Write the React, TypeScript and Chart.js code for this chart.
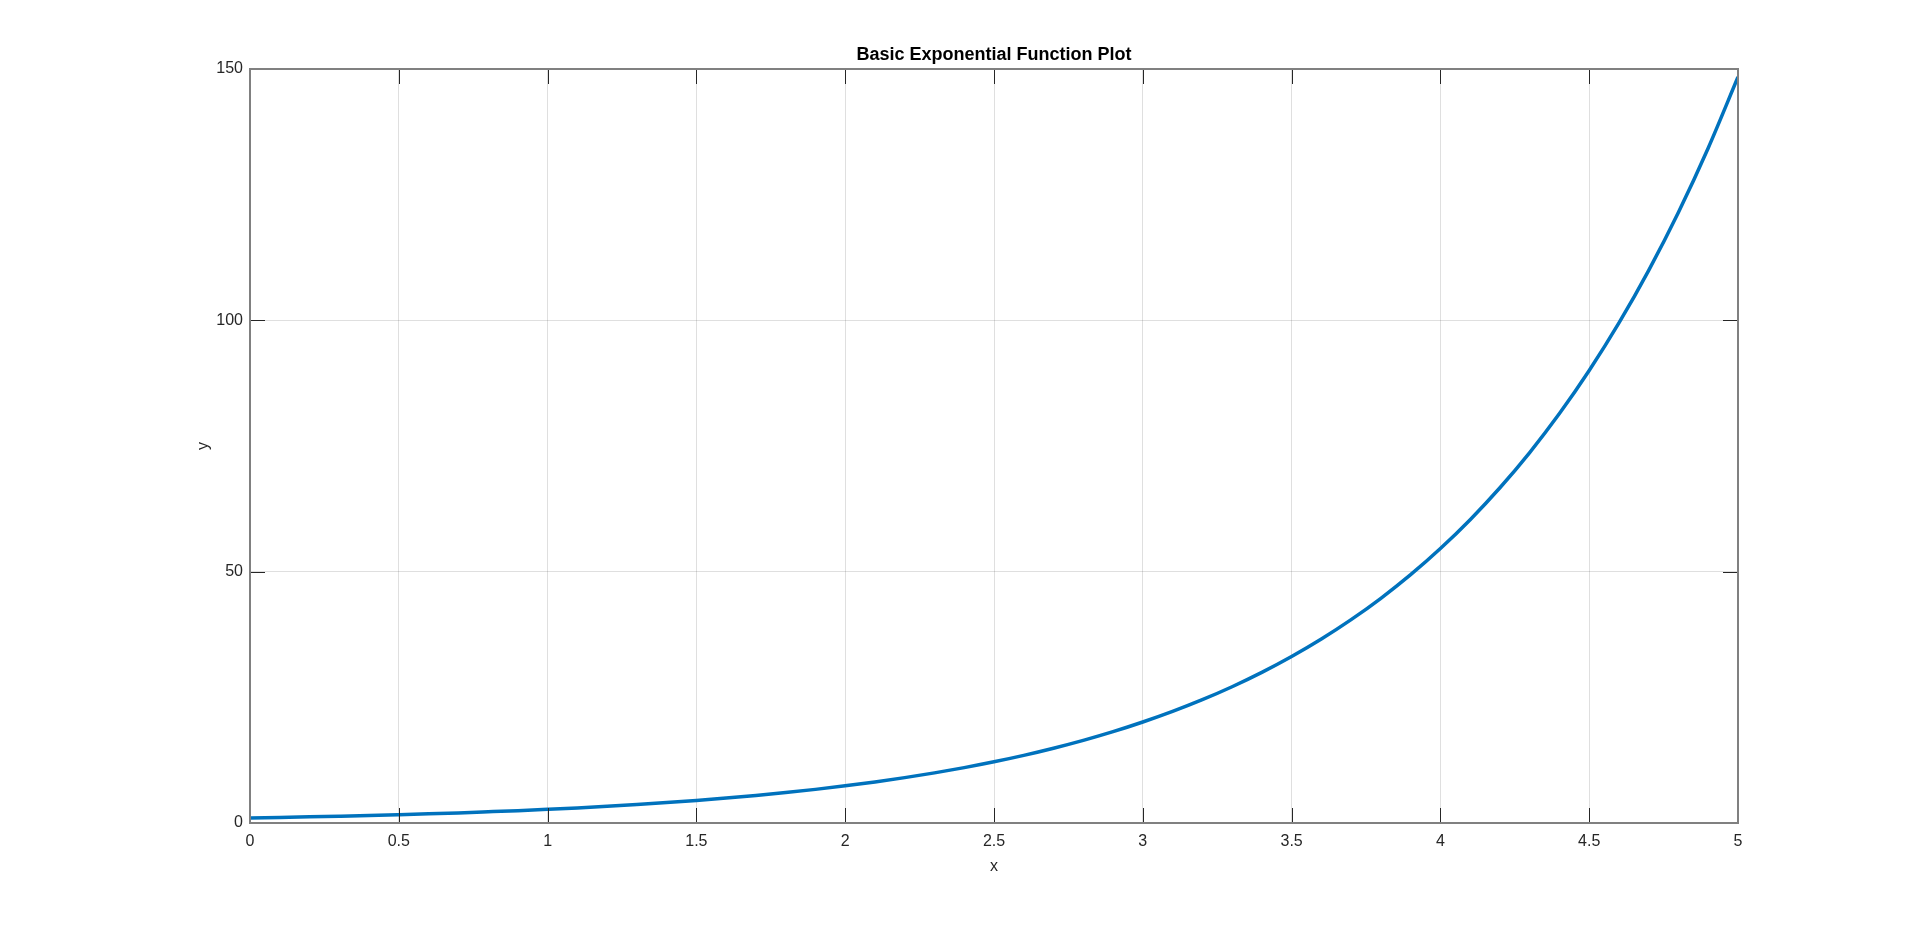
import React, { useEffect, useRef } from "react";
import { Chart, registerables } from "chart.js";

Chart.register(...registerables);

const chartTitle = "Basic Exponential Function Plot";
const xAxisLabel = "x";
const yAxisLabel = "y";

const xValues = [
  0, 0.1, 0.2, 0.3, 0.4, 0.5, 0.6, 0.7, 0.8, 0.9,
  1.0, 1.1, 1.2, 1.3, 1.4, 1.5, 1.6, 1.7, 1.8, 1.9,
  2.0, 2.1, 2.2, 2.3, 2.4, 2.5, 2.6, 2.7, 2.8, 2.9,
  3.0, 3.1, 3.2, 3.3, 3.4, 3.5, 3.6, 3.7, 3.8, 3.9,
  4.0, 4.1, 4.2, 4.3, 4.4, 4.5, 4.6, 4.7, 4.8, 4.9,
  5.0,
];

const yValues = [
  1.0, 1.11, 1.22, 1.35, 1.49, 1.65, 1.82, 2.01, 2.23, 2.46,
  2.72, 3.0, 3.32, 3.67, 4.06, 4.48, 4.95, 5.47, 6.05, 6.69,
  7.39, 8.17, 9.03, 9.97, 11.02, 12.18, 13.46, 14.88, 16.44, 18.17,
  20.09, 22.2, 24.53, 27.11, 29.96, 33.12, 36.6, 40.45, 44.7, 49.4,
  54.6, 60.34, 66.69, 73.7, 81.45, 90.02, 99.48, 109.95, 121.51, 134.29,
  148.41,
];

const xTicks = [0, 0.5, 1, 1.5, 2, 2.5, 3, 3.5, 4, 4.5, 5];
const xTickLabels = ["0", "0.5", "1", "1.5", "2", "2.5", "3", "3.5", "4", "4.5", "5"];
const yTicks = [0, 50, 100, 150];
const yTickLabels = ["0", "50", "100", "150"];

const FONT = "'Liberation Sans', Arial, Helvetica, sans-serif";
const AXIS_COLOR = "#262626";

const boxPlugin = {
  id: "matlabBox",
  afterDatasetsDraw(chart: any) {
    const { ctx, chartArea, scales } = chart;
    const { left, right, top, bottom } = chartArea;
    const xs = scales.x;
    const ys = scales.y;
    const tl = 15;
    ctx.save();
    ctx.lineWidth = 1;
    ctx.strokeStyle = AXIS_COLOR;
    ctx.beginPath();
    xTicks.forEach((v) => {
      const px = Math.round(xs.getPixelForValue(v)) + 0.5;
      ctx.moveTo(px, bottom);
      ctx.lineTo(px, bottom - tl);
      ctx.moveTo(px, top);
      ctx.lineTo(px, top + tl);
    });
    yTicks.forEach((v) => {
      const py = Math.round(ys.getPixelForValue(v)) + 0.5;
      ctx.moveTo(left, py);
      ctx.lineTo(left + tl, py);
      ctx.moveTo(right, py);
      ctx.lineTo(right - tl, py);
    });
    ctx.stroke();
    ctx.strokeStyle = "#808080";
    ctx.lineWidth = 2;
    ctx.strokeRect(left, top, right - left, bottom - top);
    ctx.restore();
  },
};

export default function App() {
  const canvasRef = useRef<HTMLCanvasElement | null>(null);

  useEffect(() => {
    const canvas = canvasRef.current;
    if (!canvas) return;
    Chart.defaults.font.family = FONT;
    Chart.defaults.color = AXIS_COLOR;

    const points = xValues.map((x, i) => ({ x, y: yValues[i] }));

    const chart = new Chart(canvas, {
      type: "line",
      data: {
        datasets: [
          {
            data: points,
            borderColor: "#0072BD",
            borderWidth: 3.5,
            pointRadius: 0,
            fill: false,
            cubicInterpolationMode: "monotone",
          },
        ],
      },
      options: {
        animation: false,
        responsive: false,
        layout: { padding: { left: 0, top: 0, right: 182, bottom: 0 } },
        plugins: {
          legend: { display: false },
          tooltip: { enabled: false },
          title: {
            display: true,
            text: chartTitle,
            fullSize: false,
            color: "#000000",
            font: { family: FONT, size: 18, weight: "bold" },
            padding: { top: 44.2, bottom: 3.2 },
          },
        },
        scales: {
          x: {
            type: "linear",
            min: 0,
            max: 5,
            afterBuildTicks: (scale: any) => {
              scale.ticks = xTicks.map((v) => ({ value: v }));
            },
            afterFit: (scale: any) => {
              scale.height = 103;
            },
            ticks: {
              autoSkip: false,
              maxRotation: 0,
              padding: 9,
              color: AXIS_COLOR,
              font: { family: FONT, size: 16 },
              callback: (value: any) => {
                const i = xTicks.indexOf(Number(value));
                return i >= 0 ? xTickLabels[i] : "";
              },
            },
            grid: { color: "rgba(38,38,38,0.15)", lineWidth: 1, drawTicks: false },
            border: { display: false },
            title: {
              display: true,
              text: xAxisLabel,
              color: AXIS_COLOR,
              font: { family: FONT, size: 16 },
              padding: { top: 0, bottom: 49.4 },
            },
          },
          y: {
            type: "linear",
            min: 0,
            max: 150,
            afterBuildTicks: (scale: any) => {
              scale.ticks = yTicks.map((v) => ({ value: v }));
            },
            afterFit: (scale: any) => {
              scale.width = 250;
            },
            ticks: {
              autoSkip: false,
              padding: 7,
              color: AXIS_COLOR,
              font: { family: FONT, size: 16 },
              callback: (value: any) => {
                const i = yTicks.indexOf(Number(value));
                return i >= 0 ? yTickLabels[i] : "";
              },
            },
            grid: { color: "rgba(38,38,38,0.15)", lineWidth: 1, drawTicks: false },
            border: { display: false },
            title: {
              display: true,
              text: yAxisLabel,
              color: AXIS_COLOR,
              font: { family: FONT, size: 16 },
              padding: { top: 194, bottom: 0 },
            },
          },
        },
      },
      plugins: [boxPlugin],
    });

    return () => {
      chart.destroy();
    };
  }, []);

  return (
    <div
      style={{
        position: "absolute",
        left: 0,
        top: 0,
        width: 1920,
        height: 926,
        background: "#ffffff",
        overflow: "hidden",
      }}
    >
      <canvas ref={canvasRef} width={1920} height={926} style={{ display: "block" }} />
    </div>
  );
}
